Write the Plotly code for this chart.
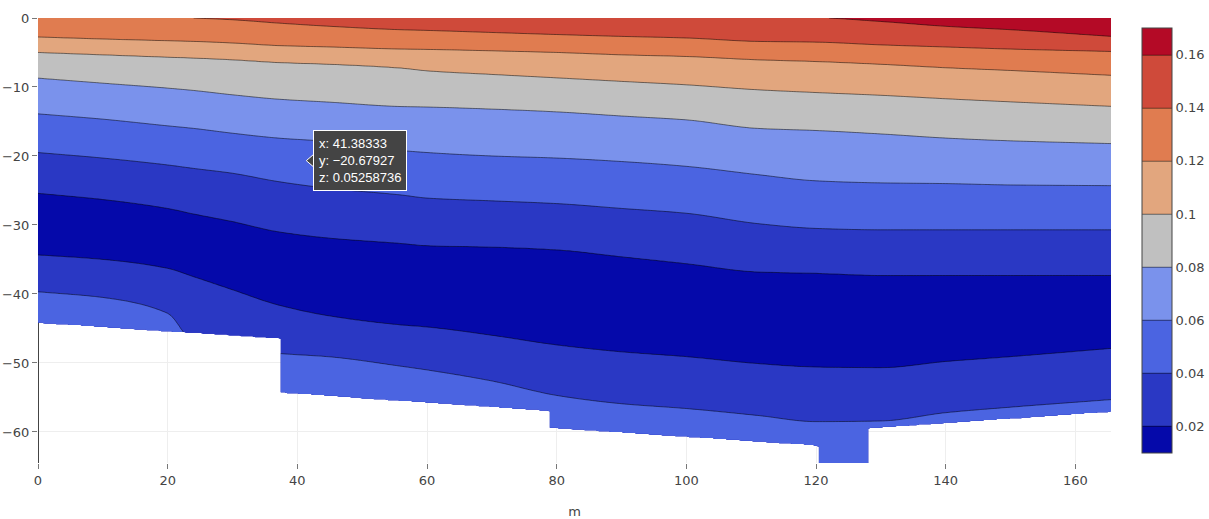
import numpy as np
import plotly.graph_objects as go

# ---------------- data ----------------
# stations along the section (m) at which the depth of each contour level was read
STATION_X = [0, 10, 20, 24, 30, 37, 45, 56, 60, 70, 80, 90, 100, 111, 120, 130, 140, 150, 165.5]

# value of each knot (top -> bottom of the water column)
KNOT_Z = [0.18, 0.16, 0.14, 0.12, 0.10, 0.08, 0.06, 0.04, 0.02, 0.012, 0.02, 0.04, 0.06]

# depth (m, positive = above surface) at which each knot value is reached, per station
D018 = [6, 6, 5, 5, 5, 4.5, 4, 3.5, 3.4, 3.2, 3, 2.8, 2.6, 2.4, 2.2, 1.8, 1.5, 1.2, 1.0]
D016 = [3, 3, 2.5, 2.4, 2.2, 2.0, 1.6, 1.2, 1.1, 0.9, 0.7, 0.5, 0.3, 0.1, 0.05, -0.5, -1.2, -1.7, -2.67]
D014 = [0.5, 0.3, 0.1, 0.0, -0.25, -0.73, -1.2, -1.7, -1.8, -2.1, -2.4, -2.67, -2.9, -3.4, -3.5, -3.9, -4.2, -4.5, -4.84]
D012 = [-2.76, -3.05, -3.3, -3.4, -3.63, -4.0, -4.2, -4.5, -4.55, -4.75, -4.99, -5.33, -5.57, -6.05, -6.3, -6.7, -7.2, -7.6, -8.3]
D010 = [-4.99, -5.33, -5.67, -5.8, -6.05, -6.44, -6.7, -7.25, -7.65, -8.17, -8.67, -9.18, -9.68, -10.4, -10.8, -11.2, -11.7, -12.15, -12.8]
D008 = [-8.71, -9.44, -10.16, -10.5, -11.13, -11.76, -12.2, -12.83, -12.9, -13.2, -13.6, -14.2, -14.76, -16.0, -16.3, -16.8, -17.4, -17.8, -18.2]
D006 = [-13.89, -14.66, -15.63, -16.0, -16.7, -17.4, -17.9, -19.2, -19.5, -20.0, -20.3, -20.8, -21.5, -22.7, -23.6, -23.9, -24.0, -24.2, -24.3]
D004 = [-19.5, -20.3, -21.3, -21.8, -22.5, -23.7, -24.7, -25.65, -26.1, -26.5, -26.9, -27.6, -28.3, -29.8, -30.5, -30.7, -30.7, -30.7, -30.7]
D002U = [-25.4, -26.3, -27.6, -28.4, -29.5, -30.97, -31.9, -32.67, -33.0, -33.2, -33.6, -34.6, -35.6, -36.8, -37.0, -37.3, -37.3, -37.3, -37.3]
DCORE = [-29.9, -30.6, -32.0, -33.0, -34.5, -36.3, -37.5, -38.6, -38.9, -39.6, -40.5, -41.5, -42.3, -43.5, -43.8, -44.0, -43.5, -43.2, -42.6]
D002L = [-34.35, -35.0, -36.3, -37.5, -39.4, -41.6, -43.2, -44.5, -44.8, -46.0, -47.4, -48.4, -49.1, -50.1, -50.6, -50.7, -49.8, -49.1, -47.9]
D004L = [-39.67, -40.5, -42.8, -47.0, -47.8, -48.6, -49.1, -50.46, -51.0, -52.6, -54.7, -55.9, -56.6, -57.6, -58.5, -58.4, -57.2, -56.4, -55.3]
D006L = [-48, -49, -50, -54, -56, -58, -59, -61, -62, -63, -65, -66, -67, -68, -69, -69, -68, -67, -66]

# sea-bed profile as straight segments (start x, end x, start depth, end depth)
BED_X0 = [0.0, 37.1, 78.5, 120.0, 128.2]
BED_X1 = [37.1, 78.5, 120.0, 128.2, 165.5]
BED_Y0 = [-44.2, -54.3, -59.4, -64.5, -59.5]
BED_Y1 = [-46.5, -56.95, -62.0, -64.5, -57.1]

# contour levels and band colours (lowest band first)
LEVEL_START, LEVEL_END, LEVEL_SIZE = 0.02, 0.16, 0.02
BAND_COLORS = ["#0509aa", "#2a38c4", "#4b64e1", "#7a92ec", "#c0c0c0",
               "#e2a67e", "#e07c50", "#cf4a3a", "#b40a26"]

# hover label shown in the picture
HOVER_X, HOVER_Y, HOVER_Z = 41.38333, -20.67927, 0.05258736


# ---------------- grid table for the contour trace ----------------
def pchip(xs, ys, xq):
    xs = np.asarray(xs, float)
    ys = np.asarray(ys, float)
    h = np.diff(xs)
    delta = np.diff(ys) / h
    n = len(xs)
    d = np.zeros(n)
    for k in range(1, n - 1):
        if delta[k - 1] * delta[k] > 0:
            w1 = 2 * h[k] + h[k - 1]
            w2 = h[k] + 2 * h[k - 1]
            d[k] = (w1 + w2) / (w1 / delta[k - 1] + w2 / delta[k])
    d[0], d[-1] = delta[0], delta[-1]
    idx = np.clip(np.searchsorted(xs, xq, side="right") - 1, 0, n - 2)
    t = (xq - xs[idx]) / h[idx]
    h00 = 2 * t**3 - 3 * t**2 + 1
    h10 = t**3 - 2 * t**2 + t
    h01 = -2 * t**3 + 3 * t**2
    h11 = t**3 - t**2
    return h00 * ys[idx] + h10 * h[idx] * d[idx] + h01 * ys[idx + 1] + h11 * h[idx] * d[idx + 1]


xg = np.round(np.arange(0, 331 + 1) * 0.5, 3)
yg = np.round(-np.arange(0, 516 + 1) * 0.125, 4)

knot_depths = [D018, D016, D014, D012, D010, D008, D006, D004, D002U, DCORE, D002L, D004L, D006L]
kz = np.array(KNOT_Z)[::-1]
depth_table = np.array([pchip(STATION_X, k, xg) for k in knot_depths])  # knots x columns

bed = np.empty(len(xg))
for i, x in enumerate(xg):
    for x0, x1, y0, y1 in zip(BED_X0, BED_X1, BED_Y0, BED_Y1):
        if x0 <= x <= x1:
            bed[i] = y0 + (y1 - y0) * (x - x0) / (x1 - x0)
            break

Z = np.empty((len(yg), len(xg)))
for i in range(len(xg)):
    d = depth_table[:, i].copy()
    for k in range(1, len(d)):
        d[k] = min(d[k], d[k - 1] - 0.01)
    Z[:, i] = np.interp(yg, d[::-1], kz)

valid = yg[:, None] >= bed[None, :] - 1e-9
z_list = [[(round(float(v), 5) if ok else None) for v, ok in zip(row, vrow)]
          for row, vrow in zip(Z, valid)]

n = len(BAND_COLORS)
colorscale = [[i / (n - 1), c] for i, c in enumerate(BAND_COLORS)]

FONT = "Verdana, DejaVu Sans, sans-serif"

fig = go.Figure()
fig.add_trace(go.Contour(
    x=xg, y=yg, z=z_list,
    colorscale=colorscale,
    autocontour=False,
    contours=dict(start=LEVEL_START, end=LEVEL_END, size=LEVEL_SIZE, coloring="fill"),
    line=dict(width=0.5),
    connectgaps=False,
    colorbar=dict(thickness=30, outlinewidth=1, outlinecolor="#444",
                  tickfont=dict(family=FONT, size=13, color="#444")),
))

fig.add_shape(type="path", xref="x", yref="y", xsizemode="pixel", ysizemode="pixel",
              xanchor=HOVER_X, yanchor=HOVER_Y, path="M 7,6 L 0,0 L 7,-6",
              fillcolor="#444", line=dict(color="#fff", width=1), layer="above")
fig.add_annotation(x=HOVER_X, y=HOVER_Y, xref="x", yref="y", showarrow=False,
                   xanchor="left", yanchor="middle", xshift=7, align="left",
                   text=f"x: {HOVER_X}<br>y: \u2212{abs(HOVER_Y)}<br>z: {HOVER_Z}",
                   bgcolor="#444", bordercolor="#fff", borderwidth=1, borderpad=5,
                   font=dict(family="Liberation Sans, Arial, sans-serif", size=13, color="#fff"))

axis_common = dict(ticks="outside", ticklen=5, tickcolor="#777", showgrid=True,
                   gridcolor="#eee", zeroline=True, zerolinecolor="#444", zerolinewidth=1,
                   showline=False, automargin=False,
                   tickfont=dict(family=FONT, size=13, color="#444"))
fig.update_layout(
    template="none",
    width=1209, height=519,
    margin=dict(l=38, r=98, t=18, b=56, autoexpand=False),
    paper_bgcolor="white", plot_bgcolor="white",
    font=dict(family=FONT, size=13, color="#444"),
    xaxis=dict(title=dict(text="m", standoff=20, font=dict(family=FONT, size=13, color="#444")),
               **axis_common),
    yaxis=dict(**axis_common),
)

fig.write_html("out.html", config={"displayModeBar": False},
               post_script="document.body.style.margin='0';document.body.style.overflow='hidden';")
